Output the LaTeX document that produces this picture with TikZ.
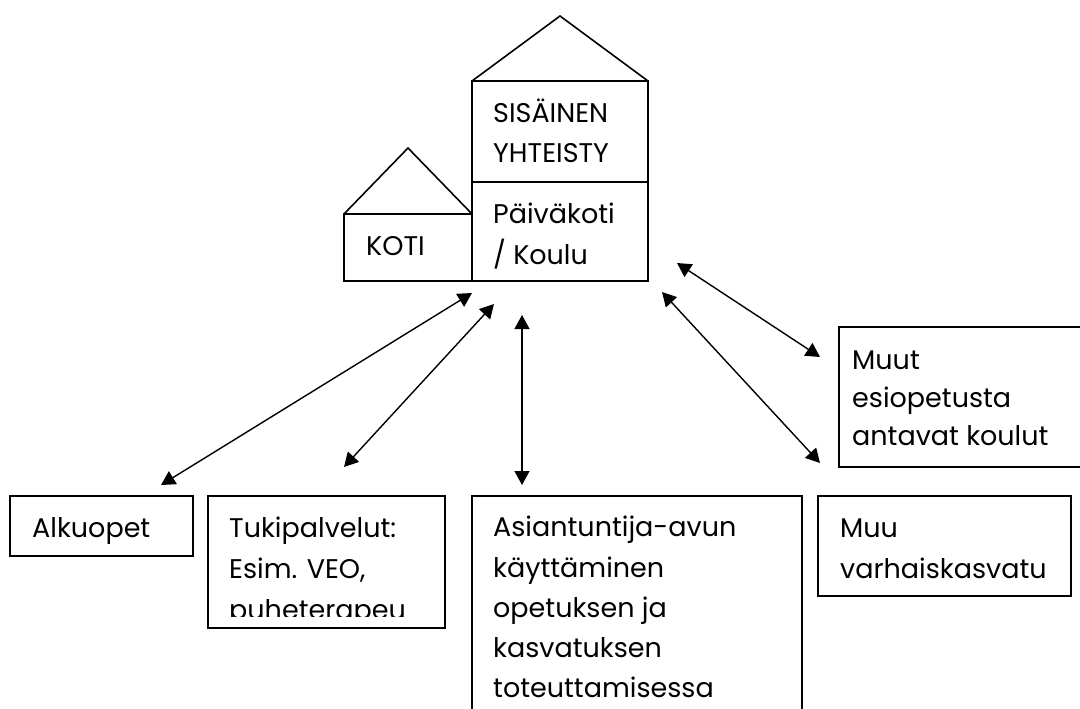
\documentclass[tikz,border=0pt]{standalone}
\usepackage{fontspec}
\setmainfont{Poppins}
\usetikzlibrary{arrows.meta}
\begin{document}
\begin{tikzpicture}[x=1pt,y=-1pt,
  line/.style={line width=1.6pt},
  dbl/.style={line width=1.4pt,{Triangle[length=14pt,width=15pt]}-{Triangle[length=14pt,width=15pt]}},
  txt/.style={anchor=base west,inner sep=0pt,font=\fontsize{27}{27}\selectfont}]
\useasboundingbox (0,0) rectangle (1080,709);
% big house
\draw[line] (472,81) rectangle (648,281);
\draw[line] (472,182) -- (648,182);
\draw[line] (472,81) -- (560,16) -- (648,81);
% small house
\draw[line] (344,214) rectangle (472,281);
\draw[line] (344,214) -- (408,148) -- (472,214);
\node[txt] (sis) at (493,123) {SISÄINEN};
\node[txt] (yht) at (493,162) {YHTEISTY};
\node[txt] (pai) at (493,223) {Päiväkoti};
\node[txt] (kou) at (493,264) {/ Koulu};
\node[txt] (koti) at (366,255) {KOTI};
% boxes
\draw[line] (10,496) rectangle (193,556);
\node[txt] (alk) at (32,537) {Alkuopet};
\draw[line] (208,496) rectangle (445,628);
\node[txt] (tuk1) at (229,537) {Tukipalvelut:};
\node[txt] (tuk2) at (229,578) {Esim. VEO,};
\begin{scope}
\clip (208,590) rectangle (445,616);
\node[txt] (tuk3) at (229,619) {puheterapeu};
\end{scope}
\draw[line] (472,720) -- (472,496) -- (802,496) -- (802,720);
\node[txt] (as1) at (493,536) {Asiantuntija-avun};
\node[txt] (as2) at (493,577) {käyttäminen};
\node[txt] (as3) at (493,617) {opetuksen ja};
\node[txt] (as4) at (493,657) {kasvatuksen};
\node[txt] (as5) at (493,697) {toteuttamisessa};
\draw[line] (818,496) rectangle (1071,596);
\node[txt] (muu1) at (840,537) {Muu};
\node[txt] (muu2) at (840,578) {varhaiskasvatu};
\draw[line] (1090,327) -- (839,327) -- (839,467) -- (1090,467);
\node[txt] (mt1) at (852,369) {Muut};
\node[txt] (mt2) at (852,407) {esiopetusta};
\node[txt] (mt3) at (852,445) {antavat koulut};
% arrows
\coordinate (a1) at (472,293); \coordinate (b1) at (161,485);
\coordinate (a2) at (494,304); \coordinate (b2) at (344,467);
\coordinate (a3) at (522,315); \coordinate (b3) at (522,485);
\coordinate (a4) at (662,292); \coordinate (b4) at (820,463);
\coordinate (a5) at (677,263); \coordinate (b5) at (820,357);
\draw[dbl] (a1) -- (b1);
\draw[dbl] (a2) -- (b2);
\draw[dbl] (a3) -- (b3);
\draw[dbl] (a4) -- (b4);
\draw[dbl] (a5) -- (b5);
\end{tikzpicture}
\end{document}
